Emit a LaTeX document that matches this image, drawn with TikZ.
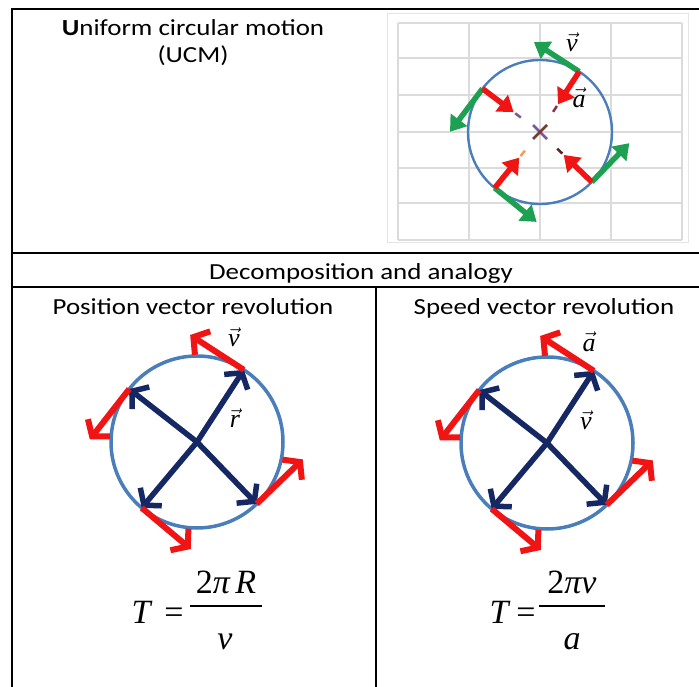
\documentclass[tikz,border=0pt]{standalone}
\usepackage{fontspec}
\setmainfont{Carlito}[FakeStretch=1.17]
\newfontfamily\eqfont{Liberation Serif}
\usepackage{tikz}
\usetikzlibrary{arrows.meta, calc}

\definecolor{orbitblue}{RGB}{74,126,187}
\definecolor{velgreen}{RGB}{30,160,82}
\definecolor{accred}{RGB}{240,20,20}
\definecolor{navyarrow}{RGB}{22,40,100}
\definecolor{stubred}{RGB}{140,50,70}
\definecolor{stubpurple}{RGB}{120,90,150}
\definecolor{stuborange}{RGB}{240,160,90}
\definecolor{stubbrown}{RGB}{90,35,35}

\newcommand{\vlabel}[1]{$\vec{\mbox{\eqfont\itshape #1}}$}

\begin{document}
\begin{tikzpicture}[
        x=1pt, y=1pt,
        rule/.style={line width=2.6pt},
        gridline/.style={draw=black!14, line width=1.2pt},
        orbit/.style={draw=orbitblue, line width=2.4pt},
        bigorbit/.style={draw=orbitblue, line width=3.5pt},
        vel/.style={draw=velgreen, line width=5.5pt, -{Triangle[length=15pt, width=20pt]}},
        acc/.style={draw=accred, line width=5.5pt, -{Triangle[length=15pt, width=20pt]}},
        tang/.style={draw=accred, line width=6pt, -{Straight Barb[length=11pt, width=28pt]}},
        radial/.style={draw=navyarrow, line width=5.5pt, -{Straight Barb[length=11pt, width=28pt]}},
        stub/.style={line width=2.5pt},
        cell/.style={font=\fontsize{23}{27}\selectfont, anchor=base},
        lbl/.style={font=\fontsize{26}{30}\selectfont},
        eq/.style={font=\eqfont\fontsize{34}{40}\selectfont, anchor=base}
    ]

    \path[use as bounding box, fill=white] (0,0) rectangle (699,686);

    % table rules
    \draw[rule] (12,-5) -- (12,677) -- (712,677);
    \draw[rule] (12,433) -- (712,433);
    \draw[rule] (12,399) -- (712,399);
    \draw[rule] (376,399) -- (376,-5);

    \node[cell] (title) at (193,650) {\textbf{U}niform circular motion};
    \node[cell] (ucm) at (193,623) {(UCM)};
    \node[cell] (decomp) at (361,406) {Decomposition and analogy};
    \node[cell] (pos) at (193,371) {Position vector revolution};
    \node[cell] (speed) at (544,371) {Speed vector revolution};

    % UCM sketch on its grid
    \draw[draw=black!10, line width=1pt] (387,443) rectangle (688,672);
    \foreach \x in {398,469,540,611,682}
        \draw[gridline] (\x,446) -- (\x,663);
    \foreach \y in {446,483,518,554,591,628,663}
        \draw[gridline] (398,\y) -- (682,\y);

    \coordinate (o1) at (540,554);
    \draw[orbit] (o1) circle[radius=72];
    \foreach \a/\c in {57/stubred,143/stubpurple,231/stuborange,316/stubbrown}
        \draw[stub, draw=\c] ($(o1)+(\a:31)$) -- ($(o1)+(\a:24)$);
    \draw[stub, draw=stubpurple] ($(o1)+(-7,7)$) -- ($(o1)+(7,-7)$);
    \draw[stub, draw=stubbrown!80!stuborange] ($(o1)+(-7,-7)$) -- ($(o1)+(7,7)$);
    \foreach \a/\n in {57/1,143/2,231/3,316/4}{
        \coordinate (u\n) at ($(o1)+(\a:72)$);
        \coordinate (g\n) at ($(u\n)+({\a+90}:54)$);
        \coordinate (h\n) at ($(o1)+(\a:33)$);
        \draw[vel] (u\n) -- (g\n);
        \draw[acc] (u\n) -- (h\n);
    }
    \node[lbl] (vtop) at (572,644) {\vlabel{v}};
    \node[lbl] (atop) at (579,588) {\vlabel{a}};

    % position and speed revolutions
    \coordinate (ol) at (197,244);
    \coordinate (or) at (547,243);
    \foreach \o in {ol,or}{
        \draw[bigorbit] (\o) circle[radius=86];
        \foreach \a/\n in {57/1,142/2,230/3,314/4}{
            \coordinate (\o\n) at ($(\o)+(\a:86)$);
            \coordinate (\o t\n) at ($(\o\n)+({\a+90}:64)$);
            \draw[radial] (\o) -- (\o\n);
            \draw[tang] (\o\n) -- (\o t\n);
        }
    }
    \node[lbl] (vleft) at (234,349) {\vlabel{v}};
    \node[lbl] (rleft) at (235,268) {\vlabel{r}};
    \node[lbl] (aright) at (589,344) {\vlabel{a}};
    \node[lbl] (vright) at (586,266) {\vlabel{v}};

    % periods
    \node[eq] (tl) at (141,63) {\itshape T};
    \node[eq] (eql) at (174,63) {=};
    \node[eq] (numl) at (226,93) {2{\itshape π}\thinspace{\itshape R}};
    \draw[line width=1.4pt] (190,80) -- (262,80);
    \node[eq] (denl) at (225,37) {\itshape v};

    \node[eq] (tr) at (499,63) {\itshape T};
    \node[eq] (eqr) at (526,63) {=};
    \node[eq] (numr) at (572,93) {2{\itshape πv}};
    \draw[line width=1.4pt] (539,80) -- (605,80);
    \node[eq] (denr) at (572,37) {\itshape a};

\end{tikzpicture}
\end{document}
